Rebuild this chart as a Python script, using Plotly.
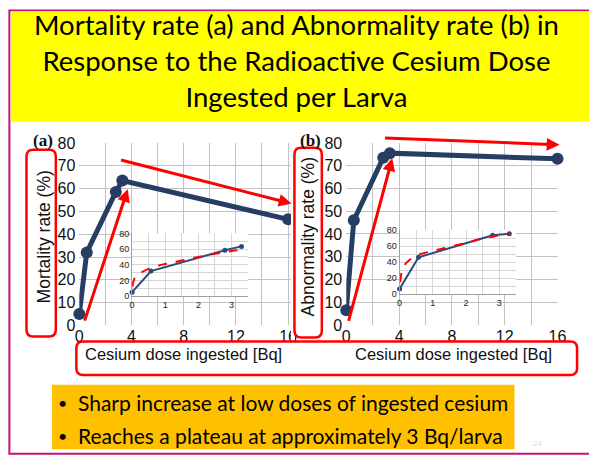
import plotly.graph_objects as go

W, H = 589, 466

# ---- data -------------------------------------------------------------
dose = [0.0, 0.57, 2.8, 3.3, 16.0]            # Bq ingested per larva
mortality = [5.0, 32.0, 58.5, 63.5, 46.5]     # %
abnormality = [6.5, 46.0, 73.5, 75.5, 73.0]   # %
n_low = 4                                     # low-dose points shown in the insets

# fitted trend curves drawn in the insets
mort_fit_dose = [0.01, 0.05, 0.12, 0.27, 0.56, 1.0, 1.5, 2.0, 2.5, 3.0, 3.3]
mort_fit = [12.0, 20.0, 26.0, 30.0, 36.0, 41.0, 45.5, 50.0, 54.0, 57.5, 59.5]
abn_fit_dose = [0.02, 0.07, 0.17, 0.31, 0.56, 1.0, 1.5, 2.0, 2.5, 3.0, 3.3]
abn_fit = [15.0, 29.0, 37.5, 43.0, 49.0, 54.0, 59.0, 64.0, 69.5, 73.5, 75.5]

x_ticks_main = [0, 4, 8, 12, 16]
y_ticks_main = [0, 10, 20, 30, 40, 50, 60, 70, 80]
x_ticks_inset = [0, 1, 2, 3]
y_ticks_inset = [0, 20, 40, 60, 80]

title_lines = ["Mortality rate (a) and Abnormality rate (b) in",
               "Response to the Radioactive Cesium Dose",
               "Ingested per Larva"]
bullet_lines = ["Sharp increase at low doses of ingested cesium",
                "Reaches a plateau at approximately 3 Bq/larva"]
x_title = "Cesium dose ingested [Bq]"
y_titles = ["Mortality rate (%)", "Abnormality rate (%)"]
panel_tags = ["(a)", "(b)"]

# ---- styling ----------------------------------------------------------
NAVY = "#263E63"
INSET_BLUE = "#2D4A78"
RED = "#FF0000"
GRID = "#C2C2C2"
INSET_GRID = "#D6D6D6"
SANS = "Liberation Sans, Arial, sans-serif"
SLIDE = "Lato, Noto Sans, sans-serif"


def X(p):
    return p / W


def Y(p):
    return 1 - p / H


def rounded_rect(x0, y0, x1, y1, r):
    return (f"M {X(x0 + r)},{Y(y0)} L {X(x1 - r)},{Y(y0)} "
            f"Q {X(x1)},{Y(y0)} {X(x1)},{Y(y0 + r)} L {X(x1)},{Y(y1 - r)} "
            f"Q {X(x1)},{Y(y1)} {X(x1 - r)},{Y(y1)} L {X(x0 + r)},{Y(y1)} "
            f"Q {X(x0)},{Y(y1)} {X(x0)},{Y(y1 - r)} L {X(x0)},{Y(y0 + r)} "
            f"Q {X(x0)},{Y(y0)} {X(x0 + r)},{Y(y0)} Z")


fig = go.Figure()

# main panels
for ser, ax in ((mortality, ("x", "y")), (abnormality, ("x2", "y2"))):
    fig.add_trace(go.Scatter(
        x=dose, y=ser, mode="lines+markers", xaxis=ax[0], yaxis=ax[1],
        line=dict(color=NAVY, width=5), marker=dict(color=NAVY, size=12),
        cliponaxis=False, hoverinfo="skip"))

# insets: low-dose detail with trend curve
for ser, fx, fy, ax in ((mortality, mort_fit_dose, mort_fit, ("x5", "y5")),
                        (abnormality, abn_fit_dose, abn_fit, ("x6", "y6"))):
    fig.add_trace(go.Scatter(
        x=dose[:n_low], y=ser[:n_low], mode="lines+markers",
        xaxis=ax[0], yaxis=ax[1],
        line=dict(color=INSET_BLUE, width=2), marker=dict(color=INSET_BLUE, size=5),
        cliponaxis=False, hoverinfo="skip"))
    fig.add_trace(go.Scatter(
        x=fx, y=fy, mode="lines", xaxis=ax[0], yaxis=ax[1],
        line=dict(color=RED, width=2, dash="dash", shape="spline"),
        hoverinfo="skip"))

main_tick_font = dict(family=SANS, size=16, color="#111111")
inset_tick_font = dict(family=SANS, size=9, color="#222222")


def main_x(dom, rng, anchor):
    return dict(domain=dom, range=rng, anchor=anchor, tickvals=x_ticks_main,
                showgrid=True, gridcolor=GRID, gridwidth=1,
                minor=dict(tick0=0, dtick=2, showgrid=True, gridcolor=GRID, gridwidth=1),
                zeroline=False, showline=False, ticks="", tickfont=main_tick_font,
                fixedrange=True)


def main_y(dom, anchor):
    return dict(domain=dom, range=[0, 80], anchor=anchor, tickvals=y_ticks_main,
                showgrid=True, gridcolor=GRID, gridwidth=1, ticklabelstandoff=3,
                zeroline=False, showline=False, ticks="", tickfont=main_tick_font,
                fixedrange=True)


def box_axis(dom, anchor):
    return dict(domain=dom, range=[0, 1], anchor=anchor, showgrid=False,
                zeroline=False, showticklabels=False, ticks="", showline=True,
                mirror=True, linecolor="#C4C4C4", linewidth=1, fixedrange=True)


def inset_x(dom, anchor):
    return dict(domain=dom, range=[0, 3.5], anchor=anchor, tickvals=x_ticks_inset,
                showgrid=True, gridcolor=INSET_GRID,
                minor=dict(tick0=0, dtick=0.5, showgrid=True, gridcolor=INSET_GRID),
                zeroline=False, showline=True, linecolor="#A0A0A0", linewidth=1,
                mirror=False, ticks="", tickfont=inset_tick_font, fixedrange=True)


def inset_y(dom, anchor):
    return dict(domain=dom, range=[0, 80], anchor=anchor, tickvals=y_ticks_inset,
                showgrid=True, gridcolor=INSET_GRID,
                minor=dict(tick0=0, dtick=10, showgrid=True, gridcolor=INSET_GRID),
                zeroline=False, showline=True, linecolor="#A0A0A0", linewidth=1,
                ticks="", tickfont=inset_tick_font, fixedrange=True)


a_px_per = (290.5 - 77) / 16
fig.update_layout(
    width=W, height=H, autosize=False,
    margin=dict(l=0, r=0, t=0, b=0),
    paper_bgcolor="white", plot_bgcolor="white", showlegend=False,
    xaxis=main_x([X(77), X(294)], [0, (294 - 77) / a_px_per], "y"),
    yaxis=main_y([Y(329.5), Y(140)], "x"),
    xaxis2=main_x([X(350), X(566)], [0, 16], "y2"),
    yaxis2=main_y([Y(329), Y(140)], "x2"),
    # white framed panels behind the insets
    xaxis3=box_axis([X(111), X(259)], "y3"),
    yaxis3=box_axis([Y(321), Y(219)], "x3"),
    xaxis4=box_axis([X(384), X(530)], "y4"),
    yaxis4=box_axis([Y(317), Y(217)], "x4"),
    # inset plot areas
    xaxis5=inset_x([X(131), X(249.6)], "y5"),
    yaxis5=inset_y([Y(299), Y(234)], "x5"),
    xaxis6=inset_x([X(404.5), X(523.5)], "y6"),
    yaxis6=inset_y([Y(297), Y(230.5)], "x6"),
)

shapes = [
    # slide frame and title band
    dict(type="rect", xref="paper", yref="paper", x0=X(5.5), x1=X(600), y0=Y(462.5), y1=Y(2.5),
         line=dict(color="#C8107A", width=2), fillcolor="rgba(0,0,0,0)", layer="below"),
    dict(type="rect", xref="paper", yref="paper", x0=X(7), x1=X(600), y0=Y(118), y1=Y(3.5),
         line=dict(width=0), fillcolor="#FFFF00", layer="below"),
    # summary band
    dict(type="rect", xref="paper", yref="paper", x0=X(49), x1=X(522), y0=Y(458), y1=Y(391),
         line=dict(width=0), fillcolor="#FFC000", layer="below"),
    # right edge of panel (a) is covered by panel (b)
    dict(type="rect", xref="paper", yref="paper", x0=X(293.5), x1=X(297.5), y0=Y(345), y1=Y(125),
         line=dict(width=0), fillcolor="white", layer="above"),
]
for box in ((23, 147, 53, 341), (297, 145, 325, 342), (74, 346, 586, 381)):
    shapes.append(dict(type="path", xref="paper", yref="paper", path=rounded_rect(*box, 7),
                       line=dict(color=RED, width=2.5), fillcolor="rgba(0,0,0,0)", layer="above"))
fig.update_layout(shapes=shapes)

ann = []
ann.append(dict(text="<br>".join(title_lines), x=X(299), y=Y(55), xref="paper", yref="paper",
                showarrow=False, font=dict(family=SLIDE, size=27.5, color="black"),
                xanchor="center", yanchor="middle", align="center"))
for i, line in enumerate(bullet_lines):
    yy = Y(409 + 35 * i)
    ann.append(dict(text="•", x=X(60), y=yy, xref="paper", yref="paper", showarrow=False,
                    font=dict(family=SLIDE, size=16, color="black"), xanchor="center", yanchor="middle"))
    ann.append(dict(text=line, x=X(74), y=yy, xref="paper", yref="paper", showarrow=False,
                    font=dict(family=SLIDE, size=21, color="black"), xanchor="left", yanchor="middle"))
for cx in (184, 460):
    ann.append(dict(text=x_title, x=X(cx), y=Y(359), xref="paper", yref="paper", showarrow=False,
                    font=dict(family=SANS, size=16.5, color="#111111"), xanchor="center", yanchor="middle"))
for cx, cy, t in ((41, 238, y_titles[0]), (311, 237, y_titles[1])):
    ann.append(dict(text=t, x=X(cx), y=Y(cy), xref="paper", yref="paper", showarrow=False,
                    textangle=-90, font=dict(family=SANS, size=17.5, color="#111111"),
                    xanchor="center", yanchor="middle"))
for cx, t in ((40, panel_tags[0]), (313, panel_tags[1])):
    ann.append(dict(text=f"<b>{t}</b>", x=X(cx), y=Y(138), xref="paper", yref="paper", showarrow=False,
                    font=dict(family="Liberation Serif, Times New Roman, serif", size=17, color="#111111"),
                    xanchor="center", yanchor="middle"))
# red trend arrows (tail -> tip, in pixels)
for (tx, ty), (hx, hy) in (((83, 321), (126.5, 188)), ((122, 159), (294, 203)),
                           ((353, 320), (397, 156)), ((392, 135), (568, 142))):
    ann.append(dict(text="", x=X(hx), y=Y(hy), xref="paper", yref="paper",
                    ax=tx - hx, ay=ty - hy, axref="pixel", ayref="pixel",
                    showarrow=True, arrowhead=2, arrowsize=0.85, arrowwidth=3, arrowcolor=RED))
ann.append(dict(text="24", x=X(552), y=Y(459), xref="paper", yref="paper", showarrow=False,
                font=dict(family=SANS, size=8, color="#DDDDDD")))
fig.update_layout(annotations=ann)

fig.write_html("out.html")
